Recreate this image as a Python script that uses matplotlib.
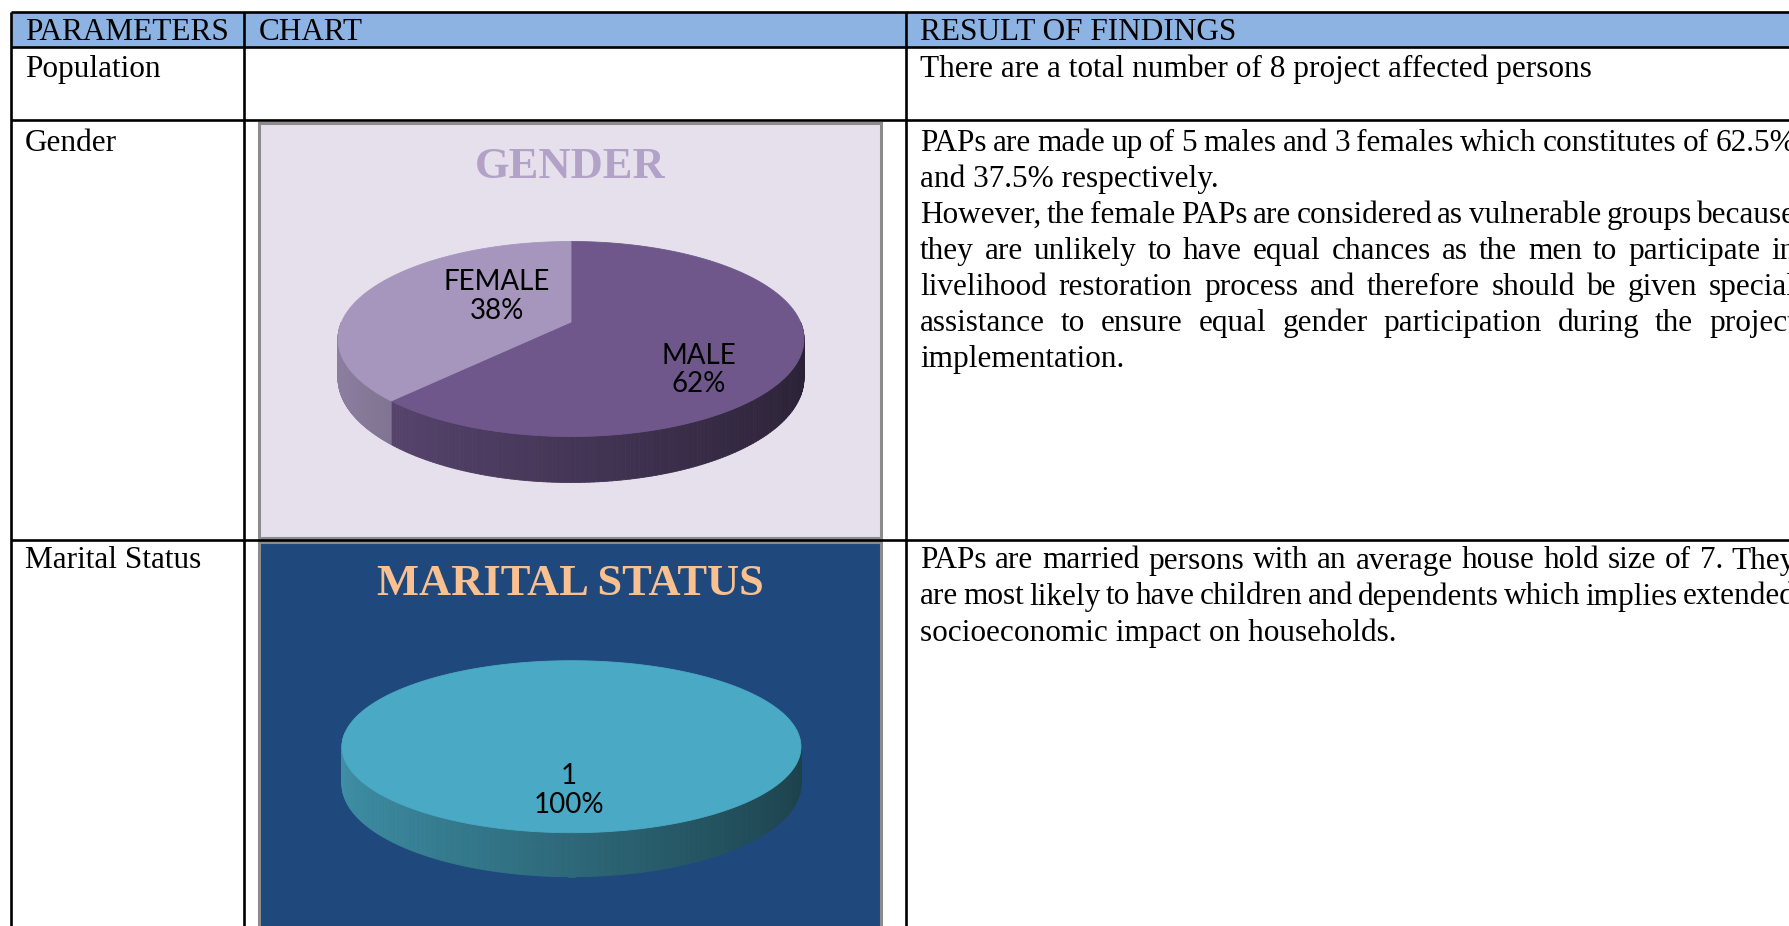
import numpy as np
import matplotlib
matplotlib.use("Agg")
import matplotlib.pyplot as plt
from matplotlib.patches import Rectangle, Polygon
from matplotlib.collections import PolyCollection
from matplotlib.colors import to_rgb

W, H = 1790, 926
SERIF = ["Liberation Serif", "DejaVu Serif"]
SANS = ["Lato", "DejaVu Sans"]
BODY = 22.5

# ---- table content ----
HEADERS = ["PARAMETERS", "CHART", "RESULT OF FINDINGS"]
PARAMS = ["Population", "Gender", "Marital Status"]

POPULATION_TXT = [["There are a total number of 8 project affected persons"]]
GENDER_TXT = [
    ["PAPs are made up of 5 males and 3 females which constitutes of 62.5%",
     "and 37.5% respectively."],
    ["However, the female PAPs are considered as vulnerable groups because",
     "they are unlikely to have equal chances as the men to participate in",
     "livelihood restoration process and therefore should be given special",
     "assistance to ensure equal gender participation during the project",
     "implementation."],
]
MARITAL_TXT = [
    ["PAPs are married persons with an average house hold size of 7. They",
     "are most likely to have children and dependents which implies extended",
     "socioeconomic impact on households."],
]

# ---- chart data ----
GENDER_CATS = ["MALE", "FEMALE"]
GENDER_PCT = [62, 38]
MARITAL_CATS = ["1"]
MARITAL_PCT = [100]

HEADER_BG = "#8DB3E2"
GRID = "black"

fig = plt.figure(figsize=(W / 100, H / 100), dpi=100)
ax = fig.add_axes([0, 0, 1, 1])
ax.set_xlim(0, W); ax.set_ylim(H, 0); ax.axis("off")
R = fig.canvas.get_renderer()

# table geometry (px)
XL, XC1, XC2 = 11, 244.3, 906
Y_TOP, Y_HEAD, Y_POP, Y_GEN = 11.5, 47, 120, 539.5
TX = [25, 259, 920]
ROW_Y = [77.5, 151, 568.5]


def body(x, y, s, **kw):
    return ax.text(x, y, s, fontsize=BODY, family=SERIF, va="baseline",
                   ha="left", zorder=6, **kw)


def paragraphs(x0, x1, y, paras, pitch=36):
    """word-by-word justified text like the Word cell"""
    for para in paras:
        for i, line in enumerate(para):
            if i == len(para) - 1:
                body(x0, y, line)
            else:
                words = line.split()
                ts = [body(x0, y, w) for w in words]
                ws = [t.get_window_extent(R).width for t in ts]
                sp = (x1 - x0 - sum(ws)) / (len(ws) - 1)
                x = x0
                for t, w in zip(ts, ws):
                    t.set_x(x)
                    x += w + sp
            y += pitch


def pie3d(cx, cy, a, b, h, pct, colors, cats, label_off, k=0.174, fs=20):
    """Excel-like 3-D pie with a little perspective (k) seen from the front."""
    sx, sy = a * np.sqrt(1 - k * k), b * (1 - k * k)
    y0 = cy - b * k                      # where the pie centre lands
    h0 = h * (1 - k)

    def proj(t):
        u, v = np.cos(t), np.sin(t)
        d = 1 + k * v
        return cx + sx * u / d, y0 - sy * v / d, h0 / d

    frac = np.asarray(pct, float) / np.sum(pct)
    edges = 90 - 360 * np.concatenate([[0], np.cumsum(frac)])
    for i in range(len(frac)):
        a0, a1 = edges[i], edges[i + 1]
        top = np.array(to_rgb(colors[i]))
        lo, hi = max(a1, -180), min(a0, 0)
        if hi > lo:
            t = np.radians(np.linspace(lo, hi, 140))
            X, Y, D = proj(t)
            polys, cols = [], []
            for j in range(len(t) - 1):
                polys.append([(X[j], Y[j]), (X[j + 1], Y[j + 1]),
                              (X[j + 1], Y[j + 1] + D[j + 1]), (X[j], Y[j] + D[j])])
                f = (np.cos((t[j] + t[j + 1]) / 2) + 1) / 2
                cols.append(np.clip(top * (0.85 - 0.47 * f), 0, 1))
            ax.add_collection(PolyCollection(polys, facecolors=cols, edgecolors=cols,
                                             linewidths=0.6, zorder=3))
        t = np.radians(np.linspace(a1, a0, 240))
        X, Y, _ = proj(t)
        pts = np.column_stack([X, Y])
        if frac[i] < 1:
            pts = np.vstack([[cx, y0], pts])
        ax.add_patch(Polygon(pts, closed=True, facecolor=top, edgecolor=top,
                             lw=0.6, zorder=4))
    for lab, p, (dx, dy) in zip(cats, pct, label_off):
        ax.text(cx + dx, cy + dy, f"{lab}\n{p}%", ha="center", va="center",
                fontsize=fs, family=SANS, linespacing=1.12, color="black", zorder=5)


# ---- table frame ----
ax.add_patch(Rectangle((XL, Y_TOP), W - XL + 5, Y_HEAD - Y_TOP,
                       facecolor=HEADER_BG, edgecolor="none", zorder=1))
for y in (Y_TOP, Y_HEAD, Y_POP, Y_GEN):
    ax.hlines(y, XL, W + 5, color=GRID, lw=1.9, zorder=7)
for x in (XL, XC1, XC2):
    ax.vlines(x, Y_TOP, H + 5, color=GRID, lw=1.9, zorder=7)

for x, s in zip(TX, HEADERS):
    body(x, 40, s)
for y, s in zip(ROW_Y, PARAMS):
    body(TX[0], y, s)

X_END = 1796
paragraphs(TX[2], X_END, ROW_Y[0], POPULATION_TXT)
paragraphs(TX[2], X_END, ROW_Y[1], GENDER_TXT)
paragraphs(TX[2], X_END, ROW_Y[2], MARITAL_TXT)

# ---- gender chart ----
ax.add_patch(Rectangle((259, 122.5), 622, 415, facecolor="#E5E0EC",
                       edgecolor="#8C8C8C", lw=2.2, zorder=2))
ax.text(570, 177.5, "GENDER", ha="center", va="baseline", fontsize=32,
        family=SERIF, weight="bold", color="#B3A2C7", zorder=5)
pie3d(571, 339, 233, 97.5, 46, GENDER_PCT, ["#6F578C", "#A696BD"],
      GENDER_CATS, [(128, 31), (-74, -42.5)])

# ---- marital status chart ----
ax.add_patch(Rectangle((259, 541.5), 622, 400, facecolor="#1F497D",
                       edgecolor="#8C8C8C", lw=2.2, zorder=2))
ax.text(570, 595, "MARITAL STATUS", ha="center", va="baseline", fontsize=32,
        family=SERIF, weight="bold", color="#FAC090", zorder=5)
pie3d(571.5, 746.7, 229.5, 86, 44, MARITAL_PCT, ["#4AAAC5"],
      MARITAL_CATS, [(-2.5, 44)])

fig.savefig("out.png", dpi=100)
